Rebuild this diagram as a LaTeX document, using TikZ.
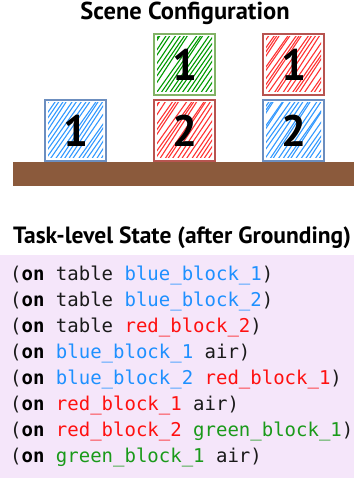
\documentclass[tikz,border=0pt]{standalone}
\usepackage{fontspec}
\setmainfont{PT Sans}
\setmonofont{DejaVu Sans Mono}
\usetikzlibrary{calc}

\definecolor{lavender}{HTML}{F5E6FA}
\definecolor{tablebrown}{HTML}{8B5A3C}
\definecolor{bluehatch}{HTML}{3399FF}
\definecolor{blueborder}{HTML}{6C8EBF}
\definecolor{redhatch}{HTML}{FF3333}
\definecolor{redborder}{HTML}{B85450}
\definecolor{greenhatch}{HTML}{009900}
\definecolor{greenborder}{HTML}{82B366}
\definecolor{bluetext}{HTML}{1E90FF}
\definecolor{redtext}{HTML}{FF1010}
\definecolor{greentext}{HTML}{1A9A1A}
\definecolor{plaintext}{HTML}{1A1A1A}

% sketchy diagonal hatching inside a block
\newcommand\hatchlines[1]{%
  \clip ([shift={(3pt,3pt)}]path picture bounding box.south west)
        rectangle ([shift={(-3pt,-3pt)}]path picture bounding box.north east);
  \foreach \k in {-60,-55.5,...,66}{%
    \pgfmathsetmacro\ja{rand*1.2}
    \pgfmathsetmacro\jb{rand*2.5}
    \draw[#1, line width=1.1pt, line cap=round]
      ([xshift=\k pt+\ja pt, yshift=-2pt]path picture bounding box.south west)
      -- ++(46pt+\jb pt, 68pt);
  }%
}

\tikzset{
  block/.style n args={2}{draw=#2, line width=2pt, minimum size=61pt,
    inner sep=0pt, font=\fontsize{44}{44}\selectfont\bfseries,
    path picture={\hatchlines{#1}}},
  fact/.style={anchor=base west, inner sep=0pt,
    font=\fontsize{19}{19}\ttfamily, text=plaintext},
  heading/.style={inner sep=0pt, font=\fontsize{#1}{#1}\selectfont\bfseries},
  heading/.default=23.5
}
\newcommand\kw{\textbf{\textcolor{black}{on}}}
\newcommand\bl[1]{\textcolor{bluetext}{#1}}
\newcommand\rd[1]{\textcolor{redtext}{#1}}
\newcommand\gr[1]{\textcolor{greentext}{#1}}

\begin{document}
\begin{tikzpicture}[x=1pt,y=-1pt]
\pgfmathsetseed{7}
\useasboundingbox (0,0) rectangle (354,478);

% scene
\node[heading=24.5, anchor=base] (scenetitle) at (185,20) {Scene Configuration};
\fill[tablebrown] (13,162) rectangle (354,186);

\node[block={bluehatch}{blueborder}]   (b1) at (75.5,130.5)  {1};
\node[block={redhatch}{redborder}]     (r2) at (184.5,130.5) {2};
\node[block={greenhatch}{greenborder}] (g1) at (184.5,64.5)  {1};
\node[block={redhatch}{redborder}]     (r1) at (293.5,64.5)  {1};
\node[block={bluehatch}{blueborder}]   (b2) at (293.5,130.5) {2};

% grounded state
\node[heading=23.5, anchor=base west] (statetitle) at (13,243) {Task-level State (after Grounding)};
\fill[lavender] (0,255) rectangle (354,478);

\node[fact] (f1) at (10,280) {(\kw{} table \bl{blue\_block\_1})};
\node[fact] (f2) at (10,306) {(\kw{} table \bl{blue\_block\_2})};
\node[fact] (f3) at (10,332) {(\kw{} table \rd{red\_block\_2})};
\node[fact] (f4) at (10,358) {(\kw{} \bl{blue\_block\_1} air)};
\node[fact] (f5) at (10,384) {(\kw{} \bl{blue\_block\_2} \rd{red\_block\_1})};
\node[fact] (f6) at (10,410) {(\kw{} \rd{red\_block\_1} air)};
\node[fact] (f7) at (10,436) {(\kw{} \rd{red\_block\_2} \gr{green\_block\_1})};
\node[fact] (f8) at (10,462) {(\kw{} \gr{green\_block\_1} air)};
\end{tikzpicture}
\end{document}
